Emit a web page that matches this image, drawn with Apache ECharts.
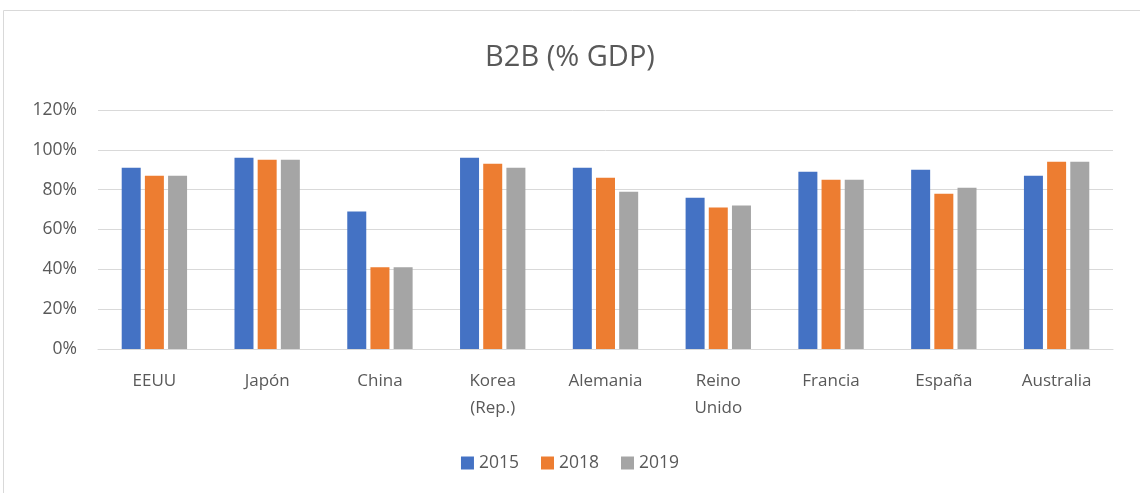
<!DOCTYPE html>
<html>
<head>
<meta charset="utf-8">
<script src="https://cdn.jsdelivr.net/npm/echarts@6/dist/echarts.min.js"></script>
<style>
  html, body { margin: 0; padding: 0; background: #fff; }
  #chart { width: 1140px; height: 493px; }
</style>
</head>
<body>
<div id="chart"></div>
<script>
const countries = ['EEUU', 'Japón', 'China', 'Korea\n(Rep.)', 'Alemania', 'Reino\nUnido', 'Francia', 'España', 'Australia']
const years = ['2015', '2018', '2019']
const v2015 = [91, 96, 69, 96, 91, 76, 89, 90, 87]
const v2018 = [87, 95, 41, 93, 86, 71, 85, 78, 94]
const v2019 = [87, 95, 41, 91, 79, 72, 85, 81, 94]
const colors = ['#4472C4', '#ED7D31', '#A5A5A5']

const font = '"Open Sans", "Noto Sans", sans-serif'
const textColor = '#595959'

const chart = echarts.init(document.getElementById('chart'))

const seriesData = [v2015, v2018, v2019]

chart.setOption({
  animation: false,
  textStyle: { fontFamily: font },
  graphic: [{
    type: 'rect',
    shape: { x: 3.5, y: 10.5, width: 1150, height: 500 },
    style: { fill: 'none', stroke: '#d9d9d9', lineWidth: 1 },
    silent: true,
  }],
  title: {
    text: 'B2B (% GDP)',
    left: 'center',
    top: 38,
    textStyle: { fontFamily: font, fontSize: 29, fontWeight: 'normal', color: textColor },
  },
  legend: {
    data: years,
    bottom: 16,
    left: 'center',
    itemWidth: 13,
    itemHeight: 13,
    itemGap: 22,
    icon: 'rect',
    textStyle: { fontFamily: font, fontSize: 17.5, color: textColor },
  },
  grid: { left: 98, right: 27, top: 110, bottom: 144 },
  xAxis: {
    type: 'category',
    data: countries,
    axisLine: { lineStyle: { color: '#d9d9d9', width: 1 } },
    axisTick: { show: false },
    axisLabel: {
      fontFamily: font,
      fontSize: 17,
      color: textColor,
      margin: 19,
      lineHeight: 27,
      interval: 0,
    },
  },
  yAxis: {
    type: 'value',
    min: 0,
    max: 120,
    interval: 20,
    axisLine: { show: false },
    axisTick: { show: false },
    splitLine: { lineStyle: { color: '#d9d9d9', width: 1 } },
    axisLabel: {
      fontFamily: font,
      fontSize: 17.5,
      color: textColor,
      margin: 21,
      formatter: '{value}%',
    },
  },
  series: years.map((y, i) => ({
    name: y,
    type: 'bar',
    data: seriesData[i],
    barWidth: 19,
    barGap: '22%',
    itemStyle: { color: colors[i] },
  })),
})
</script>
</body>
</html>
